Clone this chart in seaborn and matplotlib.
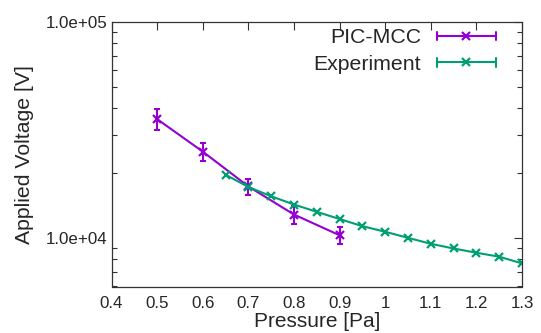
import numpy as np
import pandas as pd
import matplotlib
matplotlib.use("Agg")
import matplotlib.pyplot as plt
import seaborn as sns
from matplotlib.lines import Line2D
from matplotlib.legend_handler import HandlerBase
from matplotlib.ticker import LogLocator, FixedLocator, NullFormatter

# ---- data ----
pic_pressure = [0.5, 0.6, 0.7, 0.8, 0.9]
pic_voltage = [35600, 25200, 17400, 12900, 10350]
pic_error = [4000, 2300, 1500, 1200, 900]

exp_pressure = [0.65, 0.70, 0.75, 0.80, 0.85, 0.90, 0.95, 1.00, 1.05, 1.10, 1.15, 1.20, 1.25, 1.30]
exp_voltage = [19700, 17300, 15670, 14350, 13280, 12300, 11400, 10740, 10070, 9450, 8990, 8590, 8240, 7670]
exp_error = [0] * len(exp_pressure)

x_ticks = [0.4, 0.5, 0.6, 0.7, 0.8, 0.9, 1.0, 1.1, 1.2, 1.3]
x_ticklabels = ["0.4", "0.5", "0.6", "0.7", "0.8", "0.9", "1", "1.1", "1.2", "1.3"]
y_ticks = [1e4, 1e5]
y_ticklabels = ["1.0e+04", "1.0e+05"]

series_names = ["PIC-MCC", "Experiment"]
colors = ["#9400D3", "#009E73"]

sns.set_theme(style="white")
plt.rcParams["font.family"] = ["Liberation Sans", "DejaVu Sans"]

fig = plt.figure(figsize=(5.41, 3.33), dpi=100)
ax = fig.add_axes([111.5 / 541, 1 - 286.5 / 333, (522 - 111.5) / 541, (286.5 - 22) / 333])

series = [
    pd.DataFrame({"p": pic_pressure, "v": pic_voltage, "e": pic_error}),
    pd.DataFrame({"p": exp_pressure, "v": exp_voltage, "e": exp_error}),
]

for sub, col in zip(series, colors):
    sns.lineplot(data=sub, x="p", y="v", color=col, marker="x", markersize=6,
                 markeredgewidth=1.6, markeredgecolor=col, linewidth=1.5,
                 ax=ax, estimator=None, sort=True, legend=False)
    if sub["e"].sum() > 0:
        ax.errorbar(sub["p"], sub["v"], yerr=sub["e"], fmt="none", ecolor=col,
                    elinewidth=1.5, capsize=2.5, capthick=1.5)

ax.set_yscale("log")
ax.set_xlim(0.4, 1.3)
ax.set_ylim(6000, 1e5)
ax.xaxis.set_major_locator(FixedLocator(x_ticks))
ax.set_xticklabels(x_ticklabels)
ax.yaxis.set_major_locator(FixedLocator(y_ticks))
ax.set_yticklabels(y_ticklabels)
ax.yaxis.set_minor_locator(LogLocator(base=10, subs=np.arange(2, 10)))
ax.yaxis.set_minor_formatter(NullFormatter())

ax.tick_params(axis="both", which="major", direction="in", length=6, width=0.8,
               top=True, right=True, labelsize=12.2, color="#333333")
ax.tick_params(axis="x", which="major", pad=6.5)
ax.tick_params(axis="y", which="major", pad=3)
ax.tick_params(axis="y", which="minor", direction="in", length=3.5, width=0.8,
               left=True, right=True, color="#333333")
for s in ax.spines.values():
    s.set_color("#333333")
    s.set_linewidth(0.9)

ax.set_xlabel("Pressure [Pa]", fontsize=15, labelpad=1)
ax.set_ylabel("Applied Voltage [V]", fontsize=15.3)
ax.yaxis.set_label_coords((34 - 111.5) / 410.5, 0.5)


class ErrKeyHandler(HandlerBase):
    def create_artists(self, legend, orig_handle, xdescent, ydescent, width, height, fontsize, trans):
        col = orig_handle.get_color()
        y = height / 2 - ydescent
        x0, x1 = -xdescent, -xdescent + width
        h = 3.0
        arts = [
            Line2D([x0, x1], [y, y], color=col, lw=1.5),
            Line2D([x0, x0], [y - h, y + h], color=col, lw=1.5),
            Line2D([x1, x1], [y - h, y + h], color=col, lw=1.5),
            Line2D([(x0 + x1) / 2], [y], color=col, marker="x", markersize=6, mew=1.6, lw=0),
        ]
        for a in arts:
            a.set_transform(trans)
        return arts


handles = [Line2D([], [], color=c) for c in colors]
leg = ax.legend(handles, series_names, handler_map={Line2D: ErrKeyHandler()},
                loc="upper right", bbox_to_anchor=(1 - 20 / 410.5, 1.0), frameon=False,
                markerfirst=False, fontsize=15.3, handlelength=2.75, handletextpad=0.75,
                labelspacing=0.35, borderaxespad=0.0, borderpad=0.3)

fig.savefig("out.png", dpi=100)
